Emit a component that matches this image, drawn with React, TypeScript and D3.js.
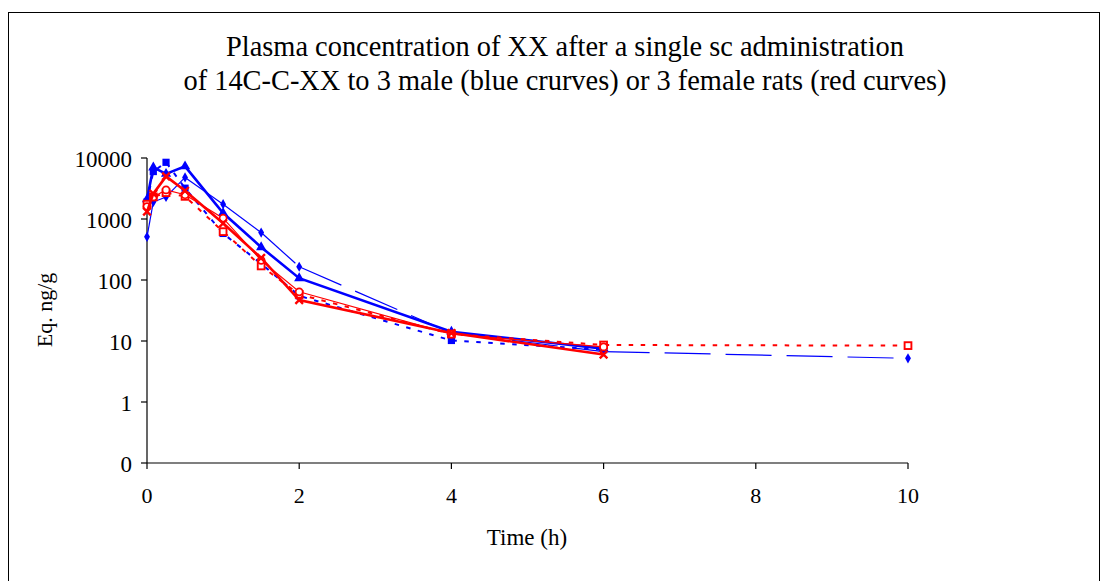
import React from "react";
import * as d3 from "d3";

// ---- data ----
const times = [0, 0.083, 0.25, 0.5, 1, 1.5, 2, 4, 6, 10];

const maleA = [510, 1900, 2300, 4800, 1750, 600, 165, 13.5, 6.7, 5.2]; // thin long-dash, diamond
const maleB = [2100, 7000, 5500, 7300, 1250, 345, 107, 14.2, 7.5]; // thick solid, triangle
const maleC = [1900, 6000, 8500, 3200, 580, 185, 55, 10.2, 7.2]; // dotted, square
const femaleA = [1320, 2600, 5000, 2900, 850, 230, 47, 13.5, 6.0]; // thick solid, x
const femaleB = [1600, 2300, 3000, 2500, 1030, 210, 64, 13, 8.0]; // thin solid, circle
const femaleC = [1750, 2300, 2700, 2350, 620, 170, 58, 13, 8.6, 8.4]; // dotted, open square

const xTicks = [0, 2, 4, 6, 8, 10];
const yTicks = [0.1, 1, 10, 100, 1000, 10000];
const yTickLabels = ["0", "1", "10", "100", "1000", "10000"];

const titleLines = [
  "Plasma concentration of XX after a single sc administration",
  "of 14C-C-XX to 3 male (blue crurves) or 3 female rats (red curves)",
];

const BLUE = "#0000FF";
const RED = "#FF0000";
const FONT = "'Liberation Serif', 'Times New Roman', serif";

type Series = {
  values: number[];
  color: string;
  width: number;
  dash?: string;
  perSegment?: boolean;
  marker: "diamond" | "triangle" | "square" | "x" | "circle" | "osquare";
};

const series: Series[] = [
  { values: maleA, color: BLUE, width: 1.2, dash: "46,15", perSegment: true, marker: "diamond" },
  { values: maleC, color: BLUE, width: 2, dash: "4.5,7.5", marker: "square" },
  { values: maleB, color: BLUE, width: 2.6, marker: "triangle" },
  { values: femaleC, color: RED, width: 2, dash: "4.5,7.5", marker: "osquare" },
  { values: femaleB, color: RED, width: 1.2, marker: "circle" },
  { values: femaleA, color: RED, width: 2.6, marker: "x" },
];

export default function App() {
  const x = d3.scaleLinear().domain([0, 10]).range([147, 908]);
  const y = d3.scaleLog().domain([0.1, 10000]).range([463, 158]);

  const line = d3
    .line<[number, number]>()
    .x((d) => x(d[0]))
    .y((d) => y(d[1]));

  const marker = (s: Series, cx: number, cy: number, key: string) => {
    switch (s.marker) {
      case "diamond":
        return (
          <path key={key} d={d3.symbol(d3.symbolDiamond, 30)()!} transform={`translate(${cx},${cy})`} fill={s.color} />
        );
      case "triangle":
        return (
          <path key={key} d={d3.symbol(d3.symbolTriangle, 45)()!} transform={`translate(${cx},${cy})`} fill={s.color} />
        );
      case "square":
        return <rect key={key} x={cx - 3.6} y={cy - 3.6} width={7.2} height={7.2} fill={s.color} />;
      case "osquare":
        return (
          <rect key={key} x={cx - 3.4} y={cy - 3.4} width={6.8} height={6.8} fill="#fff" stroke={s.color} strokeWidth={1.9} />
        );
      case "circle":
        return <circle key={key} cx={cx} cy={cy} r={3.5} fill="#fff" stroke={s.color} strokeWidth={1.7} />;
      case "x":
        return (
          <path
            key={key}
            d="M-3.8,-3.8L3.8,3.8M-3.8,3.8L3.8,-3.8"
            transform={`translate(${cx},${cy})`}
            stroke={s.color}
            strokeWidth={2.4}
            fill="none"
          />
        );
    }
  };

  return (
    <svg
      width={1107}
      height={581}
      style={{ position: "absolute", left: 0, top: 0, background: "#fff" }}
      fontFamily={FONT}
    >
      <rect x={0} y={0} width={1107} height={581} fill="#fff" />
      <rect x={8.5} y={12.5} width={1091} height={600} fill="none" stroke="#000" strokeWidth={1} />

      {/* title */}
      {titleLines.map((t, i) => (
        <text key={i} x={565} y={56 + i * 33.5} textAnchor="middle" fontSize={28.4} fill="#000">
          {t}
        </text>
      ))}

      {/* axes */}
      <line x1={147} x2={147} y1={158} y2={463} stroke="#000" strokeWidth={1.2} />
      <line x1={147} x2={908} y1={463} y2={463} stroke="#000" strokeWidth={1.2} />
      {yTicks.map((t, i) => (
        <g key={"y" + i}>
          <line x1={141} x2={147} y1={y(t)} y2={y(t)} stroke="#000" strokeWidth={1.2} />
          <text x={132} y={y(t) + 8.5} textAnchor="end" fontSize={23}>
            {yTickLabels[i]}
          </text>
        </g>
      ))}
      {xTicks.map((t) => (
        <g key={"x" + t}>
          <line x1={x(t)} x2={x(t)} y1={463} y2={469} stroke="#000" strokeWidth={1.2} />
          <text x={x(t)} y={503} textAnchor="middle" fontSize={22}>
            {t}
          </text>
        </g>
      ))}

      <text transform="translate(52,310) rotate(-90)" textAnchor="middle" fontSize={22}>
        Eq. ng/g
      </text>
      <text x={527} y={545} textAnchor="middle" fontSize={23}>
        Time (h)
      </text>

      {/* series */}
      {series.map((s, si) => {
        const pts: [number, number][] = s.values.map((v, i) => [times[i], v]);
        return (
          <g key={"s" + si}>
            {s.perSegment ? (
              pts.slice(1).map((p, i) => (
                <path
                  key={i}
                  d={line([pts[i], p])!}
                  fill="none"
                  stroke={s.color}
                  strokeWidth={s.width}
                  strokeDasharray={s.dash}
                />
              ))
            ) : (
              <path d={line(pts)!} fill="none" stroke={s.color} strokeWidth={s.width} strokeDasharray={s.dash} />
            )}
            {pts.map((p, i) => marker(s, x(p[0]), y(p[1]), "m" + i))}
          </g>
        );
      })}
    </svg>
  );
}
